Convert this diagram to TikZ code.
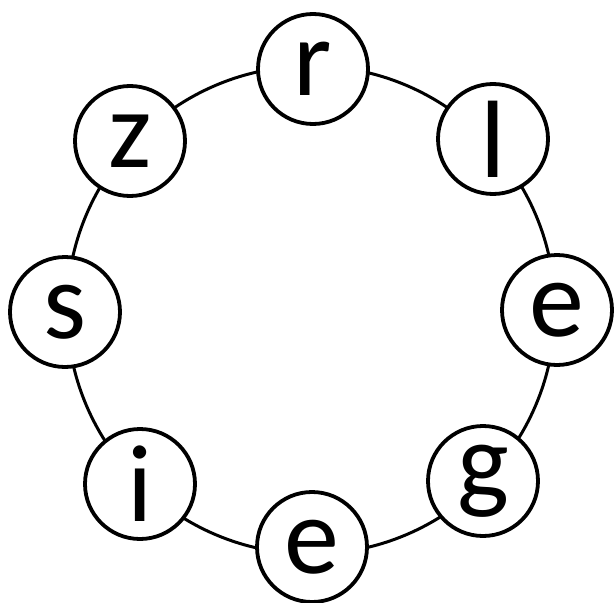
\documentclass[tikz,border=0pt]{standalone}
\usepackage{fontspec}
\setmainfont{Carlito}
\begin{document}
\begin{tikzpicture}[x=1pt,y=-1pt,
  letter/.style={circle,draw=black,line width=3.8pt,fill=white,minimum size=110pt,inner sep=0pt,
    font=\fontsize{110}{112}\selectfont}]
\useasboundingbox (0,0) rectangle (615,602);
\coordinate (c) at (311,310);
\draw[line width=3pt] (c) circle (244);
\node[letter] (r) at (313,69) {r};
\node[letter] (l) at (493,139) {l};
\node[letter] (e1) at (557,310) {e};
\node[letter] (g) at (483,481) {g};
\node[letter] (e2) at (312,547) {e};
\node[letter] (i) at (140,484) {i};
\node[letter] (s) at (65,312) {s};
\node[letter] (z) at (130,141) {z};
\end{tikzpicture}
\end{document}
